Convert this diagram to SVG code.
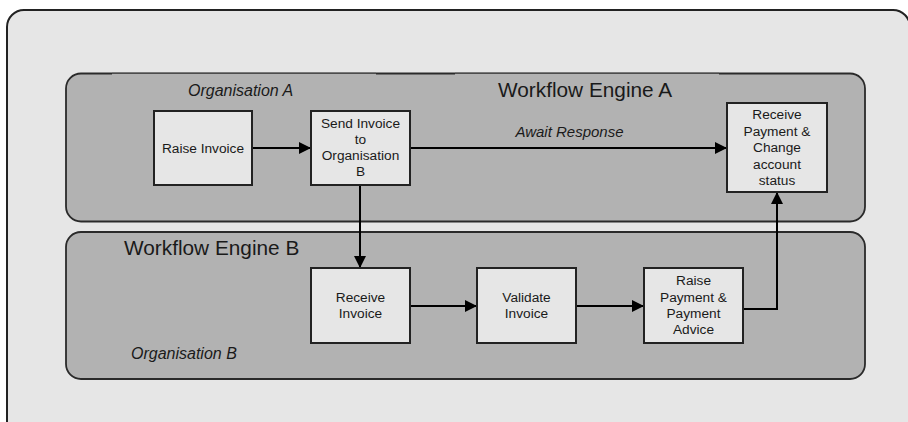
<svg xmlns="http://www.w3.org/2000/svg" width="908" height="422" viewBox="0 0 908 422">
<defs>
<style>
.outer{fill:#e6e6e6;stroke:#222;stroke-width:2}
.panel{fill:#b2b2b2;stroke:#2a2a2a;stroke-width:1.8}
.node rect{fill:#e6e6e6;stroke:#222;stroke-width:2}
.node text{font-family:"Liberation Sans",Arial,sans-serif;font-size:13.7px;fill:#1a1a1a;text-anchor:middle}
.title{font-family:"Liberation Sans",Arial,sans-serif;font-size:20.8px;fill:#1a1a1a}
.lbl{font-family:"Liberation Sans",Arial,sans-serif;font-size:16px;font-style:italic;fill:#1a1a1a}
.edge{fill:none;stroke:#000;stroke-width:2}
</style>
<marker id="arrow" viewBox="0 0 12 12" refX="12" refY="6" markerWidth="12" markerHeight="12" markerUnits="userSpaceOnUse" orient="auto"><path d="M0,0 L12,6 L0,12 z" fill="#000"/></marker>
</defs>

<g id="background">
<rect class="outer" x="7" y="10" width="903" height="430" rx="17"/>
</g>

<g id="engineA">
<rect class="panel" x="66" y="73.5" width="799" height="148" rx="15"/>
<line x1="112" y1="74.3" x2="376" y2="74.3" stroke="#b2b2b2" stroke-width="1.6"/>
<line x1="112" y1="73.3" x2="376" y2="73.3" stroke="#444" stroke-width="1"/>
<line x1="455" y1="74.3" x2="719" y2="74.3" stroke="#b2b2b2" stroke-width="1.6"/>
<line x1="455" y1="73.3" x2="719" y2="73.3" stroke="#444" stroke-width="1"/>
<text class="lbl" x="188" y="96">Organisation A</text>
<text class="title" x="498" y="97">Workflow Engine A</text>
</g>

<g id="engineB">
<rect class="panel" x="66" y="232" width="799" height="147" rx="15"/>
<text class="title" x="124" y="255">Workflow Engine B</text>
<text class="lbl" x="131" y="359">Organisation B</text>
</g>

<g id="connectors">
<path class="edge" d="M252,148 H311" marker-end="url(#arrow)"/>
<path class="edge" d="M410,148 H727" marker-end="url(#arrow)"/>
<path class="edge" d="M360,185 V268" marker-end="url(#arrow)"/>
<path class="edge" d="M410,306 H477" marker-end="url(#arrow)"/>
<path class="edge" d="M576,306 H644" marker-end="url(#arrow)"/>
<path class="edge" d="M743,309 H777 V192" marker-end="url(#arrow)"/>
<text class="lbl" x="569.5" y="137" text-anchor="middle" style="font-size:15px">Await Response</text>
</g>

<g id="raiseInvoice" class="node">
<rect x="154" y="111" width="98" height="74"/>
<text x="203" y="152.5">Raise Invoice</text>
</g>

<g id="sendInvoice" class="node">
<rect x="311" y="111" width="99" height="74"/>
<text x="360.5" y="127.5">Send Invoice</text>
<text x="360.5" y="144">to</text>
<text x="360.5" y="160">Organisation</text>
<text x="360.5" y="176">B</text>
</g>

<g id="receivePayment" class="node">
<rect x="727" y="103" width="100" height="89"/>
<text x="777" y="119">Receive</text>
<text x="777" y="135.5">Payment &amp;</text>
<text x="777" y="152">Change</text>
<text x="777" y="168.5">account</text>
<text x="777" y="185">status</text>
</g>

<g id="receiveInvoice" class="node">
<rect x="311" y="268" width="99" height="75"/>
<text x="360.5" y="301.5">Receive</text>
<text x="360.5" y="317.5">Invoice</text>
</g>

<g id="validateInvoice" class="node">
<rect x="477" y="268" width="99" height="75"/>
<text x="526.5" y="301.5">Validate</text>
<text x="526.5" y="317.5">Invoice</text>
</g>

<g id="raisePayment" class="node">
<rect x="644" y="268" width="99" height="75"/>
<text x="693.5" y="284.5">Raise</text>
<text x="693.5" y="301.5">Payment &amp;</text>
<text x="693.5" y="317.5">Payment</text>
<text x="693.5" y="334">Advice</text>
</g>
</svg>
